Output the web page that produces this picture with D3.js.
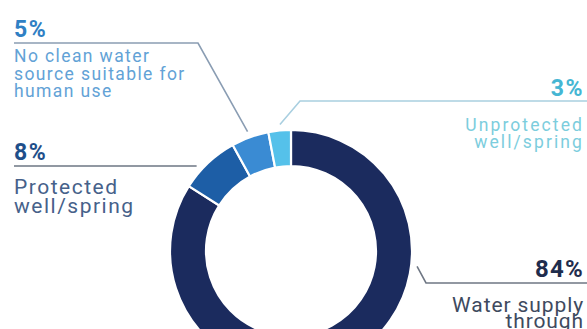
<!DOCTYPE html>
<html>
<head>
<meta charset="utf-8">
<script src="https://cdn.jsdelivr.net/npm/d3@7"></script>
<style>
  html, body { margin: 0; padding: 0; background: #fff; }
  svg { display: block; font-family: Roboto, "Noto Sans", sans-serif; }
</style>
</head>
<body>
<div id="chart"></div>
<script>
// Water source shares (clockwise from 12 o'clock)
const categories = ["Water supply through", "Protected well/spring", "No clean water source suitable for human use", "Unprotected well/spring"];
const values = [84, 8, 5, 3];
const percentLabels = ["84%", "8%", "5%", "3%"];
const labelLines = [
    ["Water supply", "through"],
    ["Protected", "well/spring"],
    ["No clean water", "source suitable for", "human use"],
    ["Unprotected", "well/spring"]
];

const sliceColors = ["#1b2b5e", "#1d5ea6", "#3a8bd3", "#55c1ea"];
const pctColors = ["#1f2d4d", "#1f4f8a", "#2f80c4", "#45b6d3"];
const textColors = ["#3e4a5e", "#46618a", "#62a2d6", "#7ccddd"];
const lineColors = ["#6f7784", "#6d7683", "#8a9db3", "#a9cfe0"];

document.addEventListener('DOMContentLoaded', function () {
    drawDonut();
});

function drawDonut() {
    const width = 587, height = 329;
    const cx = 291, cy = 251;
    const outerR = 121, innerR = 85;

    const svg = d3.select("#chart")
        .append("svg")
        .attr("width", width)
        .attr("height", height);

    const pie = d3.pie().sort(null).value(d => d)(values);
    const arc = d3.arc().innerRadius(innerR).outerRadius(outerR);

    const g = svg.append("g").attr("transform", `translate(${cx},${cy})`);

    g.selectAll("path.slice")
        .data(pie)
        .enter()
        .append("path")
        .attr("class", "slice")
        .attr("d", arc)
        .attr("fill", (d, i) => sliceColors[i])
        .attr("stroke", "#fff")
        .attr("stroke-width", 2.2);

    // label layout: side, anchor angle on ring (deg), elbow, line y, text baselines
    const layout = [
        { side: "right", angle: 97, elbowX: 426, lineY: 283, pctY: 277, pctSize: 24, pctLs: 1.2, textY: 312, textSize: 21, ls: 0.9, lh: 16 },
        { side: "left", angle: 312, elbowX: null, lineY: 166, pctY: 160, pctSize: 23, pctLs: 1.5, textY: 194, textSize: 21, ls: 1.5, lh: 19 },
        { side: "left", angle: 340, elbowX: 198, lineY: 43, pctY: 37, pctSize: 23, pctLs: 1.5, textY: 62, textSize: 17.5, ls: 1.4, lh: 17.5 },
        { side: "right", angle: 355, elbowX: 300, lineY: 101, pctY: 96, pctSize: 23, pctLs: 1.5, textY: 131, textSize: 17.5, ls: 2.1, lh: 16.5 }
    ];

    const leftX = 14, rightX = 584;
    const anchorR = outerR + 6;

    layout.forEach((L, i) => {
        const a = L.angle * Math.PI / 180;
        const ax = cx + anchorR * Math.sin(a);
        const ay = cy - anchorR * Math.cos(a);
        const endX = L.side === "left" ? leftX : width;
        const pts = [[ax, ay]];
        if (L.elbowX !== null) pts.push([L.elbowX, L.lineY]);
        pts.push([endX, L.lineY]);

        svg.append("path")
            .attr("d", d3.line()(pts))
            .attr("fill", "none")
            .attr("stroke", lineColors[i])
            .attr("stroke-width", 1.6);

        const tx = L.side === "left" ? leftX : rightX;
        const anchor = L.side === "left" ? "start" : "end";

        svg.append("text")
            .attr("x", tx)
            .attr("y", L.pctY)
            .attr("text-anchor", anchor)
            .attr("font-size", L.pctSize)
            .attr("font-weight", 700)
            .attr("letter-spacing", L.pctLs)
            .attr("fill", pctColors[i])
            .text(percentLabels[i]);

        svg.append("text")
            .attr("text-anchor", anchor)
            .attr("font-size", L.textSize)
            .attr("fill", textColors[i])
            .attr("letter-spacing", L.ls)
            .selectAll("tspan")
            .data(labelLines[i])
            .enter()
            .append("tspan")
            .attr("x", tx)
            .attr("y", (d, j) => L.textY + j * L.lh)
            .text(d => d);
    });
}
</script>
</body>
</html>
